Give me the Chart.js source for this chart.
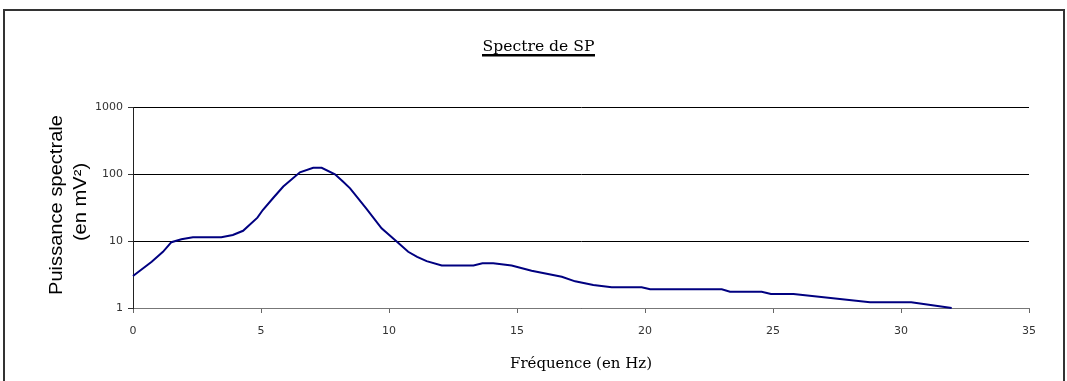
<!DOCTYPE html>
<html>
<head>
<meta charset="utf-8">
<title>Spectre de SP</title>
<script src="https://cdn.jsdelivr.net/npm/chart.js@4.4.0/dist/chart.umd.min.js"></script>
<style>
  html, body { margin: 0; padding: 0; background: #fff; }
  canvas { display: block; }
</style>
</head>
<body>
<canvas id="spectreChart" width="1067" height="381"></canvas>
<script>
const chartTitle = 'Spectre de SP';
const xTitle = 'Fréquence (en Hz)';
const yTitle = ['Puissance spectrale', '(en mV²)'];

// frequency (Hz) and spectral power (mV²)
const freqs = [0, 0.73, 1.17, 1.5, 1.89, 2.34, 3.45, 3.9, 4.3, 4.86, 5.07, 5.5, 5.87, 6.52, 7.04, 7.37, 7.89, 8.2, 8.48, 9.1, 9.71, 10.3, 10.75, 11.1, 11.47, 12.06, 13.3, 13.65, 14.07, 14.79, 15.57, 16.75, 17.27, 17.98, 18.7, 19.87, 20.2, 23.0, 23.32, 24.56, 24.92, 25.8, 28.79, 30.4, 31.98];
const power = [3.0, 4.9, 6.9, 9.6, 10.6, 11.4, 11.4, 12.3, 14.2, 22.3, 29, 45, 65, 106, 124, 124, 99, 77, 61, 31, 15.5, 9.8, 6.9, 5.8, 5.0, 4.3, 4.3, 4.65, 4.65, 4.3, 3.6, 2.93, 2.5, 2.2, 2.04, 2.04, 1.9, 1.9, 1.75, 1.75, 1.62, 1.62, 1.22, 1.22, 1.0];

const yTicks = [1, 10, 100, 1000];
const xMin = 0, xMax = 35, xStep = 5;

// draw text squeezed/stretched to a given width, centred on x
function fitText(ctx, text, x, y, width) {
    const w = ctx.measureText(text).width;
    ctx.save();
    ctx.translate(x, y);
    ctx.scale(width / w, 1);
    ctx.textAlign = 'center';
    ctx.fillText(text, 0, 0);
    ctx.restore();
}

const decorPlugin = {
    id: 'decor',
    afterDraw(chart) {
        const ctx = chart.ctx;
        ctx.save();

        // outer frame
        ctx.strokeStyle = '#333';
        ctx.lineWidth = 2;
        ctx.beginPath();
        ctx.moveTo(4, 400);
        ctx.lineTo(4, 10);
        ctx.lineTo(1064, 10);
        ctx.lineTo(1064, 400);
        ctx.stroke();

        ctx.fillStyle = '#000';
        ctx.textBaseline = 'alphabetic';

        // title, underlined
        ctx.font = '15px "DejaVu Serif"';
        fitText(ctx, chartTitle, 538.5, 51, 112);
        ctx.fillRect(482, 54, 113, 2.5);

        // x axis title
        ctx.font = '14px "DejaVu Serif"';
        fitText(ctx, xTitle, 581, 368, 142);

        // y axis title, two rotated lines
        ctx.font = '18px "Liberation Sans"';
        const k = 180 / ctx.measureText(yTitle[0]).width;
        ctx.save();
        ctx.translate(61.5, 205);
        ctx.rotate(-Math.PI / 2);
        fitText(ctx, yTitle[0], 0, 0, 180);
        ctx.restore();
        ctx.save();
        ctx.translate(86, 202);
        ctx.rotate(-Math.PI / 2);
        fitText(ctx, yTitle[1], 0, 0, ctx.measureText(yTitle[1]).width * k);
        ctx.restore();

        ctx.restore();
    }
};

const ctx = document.getElementById('spectreChart').getContext('2d');

new Chart(ctx, {
    type: 'line',
    data: {
        datasets: [{
            data: freqs.map((f, i) => ({ x: f, y: power[i] })),
            borderColor: '#000080',
            borderWidth: 2,
            pointRadius: 0,
            tension: 0,
            fill: false,
            clip: false
        }]
    },
    options: {
        responsive: false,
        animation: false,
        layout: { padding: { left: 0, right: 38, top: 107, bottom: 0 } },
        plugins: {
            legend: { display: false },
            tooltip: { enabled: false },
            title: { display: false }
        },
        scales: {
            x: {
                type: 'linear',
                min: xMin,
                max: xMax,
                ticks: {
                    stepSize: xStep,
                    color: '#333',
                    font: { family: 'DejaVu Sans', size: 11 },
                    padding: 12,
                    maxRotation: 0
                },
                grid: {
                    drawOnChartArea: false,
                    tickLength: 5,
                    tickColor: '#666'
                },
                border: { color: '#777', width: 1 },
                afterFit: scale => { scale.height = 73; }
            },
            y: {
                type: 'logarithmic',
                min: yTicks[0],
                max: yTicks[yTicks.length - 1],
                afterBuildTicks: scale => {
                    scale.ticks = yTicks.map(v => ({ value: v }));
                },
                ticks: {
                    callback: v => String(v),
                    color: '#333',
                    font: { family: 'DejaVu Sans', size: 11 },
                    padding: 5
                },
                grid: {
                    color: '#000',
                    tickLength: 5,
                    tickColor: '#333'
                },
                border: { color: '#222', width: 1 },
                afterFit: scale => { scale.width = 133; }
            }
        }
    },
    plugins: [decorPlugin]
});
</script>
</body>
</html>
